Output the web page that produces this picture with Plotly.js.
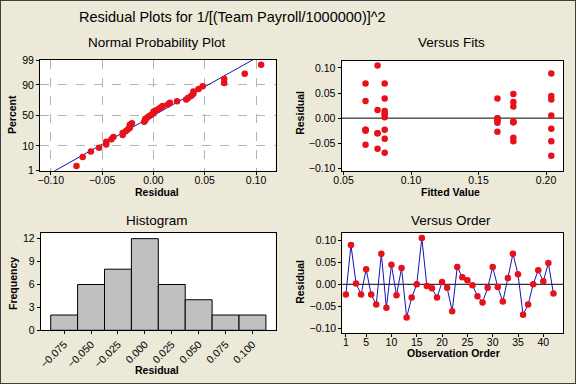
<!DOCTYPE html>
<html>
<head>
<meta charset="utf-8">
<script src="https://cdn.plot.ly/plotly-3.0.1.min.js"></script>
<style>
  html, body { margin: 0; padding: 0; background: #ece9d8; }
  #wrap { position: relative; width: 576px; height: 384px; }
  #chart { width: 576px; height: 384px; }
  #frame { position: absolute; left: 0; top: 0; width: 576px; height: 384px; box-sizing: border-box; border: 1px solid #404040; pointer-events: none; }
</style>
</head>
<body>
<div id="wrap"><div id="chart"></div><div id="frame"></div></div>
<script>
// ---- Data ----
const observationOrder = [1,2,3,4,5,6,7,8,9,10,11,12,13,14,15,16,17,18,19,20,21,22,23,24,25,26,27,28,29,30,31,32,33,34,35,36,37,38,39,40,41,42];
const residuals = [-0.023, 0.089, 0.002, -0.023, 0.034, -0.023, -0.046, 0.069, -0.053, 0.044,
                   -0.025, 0.037, -0.075, -0.030, 0.000, 0.105, -0.004, -0.009, -0.030, 0.005,
                   -0.008, -0.061, 0.039, 0.016, 0.009, -0.002, -0.027, -0.041, -0.008, 0.039,
                   -0.006, -0.039, 0.014, 0.069, 0.023, -0.069, -0.046, 0.000, 0.032, 0.007,
                   0.048, -0.021];
const fittedValues = [0.0663, 0.2039, 0.0805, 0.0663, 0.0663, 0.0805, 0.2039, 0.0663, 0.0663, 0.2039,
                      0.0663, 0.2039, 0.2039, 0.0752, 0.1640, 0.0752, 0.1640, 0.1640, 0.0752, 0.2039,
                      0.1758, 0.0752, 0.1640, 0.0752, 0.0805, 0.1640, 0.1640, 0.0805, 0.1758, 0.0805,
                      0.1758, 0.1758, 0.0805, 0.0805, 0.1758, 0.0805, 0.1758, 0.1640, 0.1758, 0.0805,
                      0.1758, 0.2039];
const percentTicks = [1, 10, 50, 90, 99];
const residTicks = [-0.10, -0.05, 0.00, 0.05, 0.10];
const fitTicks = [0.05, 0.10, 0.15, 0.20];
const histTicks = [-0.075, -0.050, -0.025, 0.000, 0.025, 0.050, 0.075, 0.100];
const freqTicks = [0, 3, 6, 9, 12];
const orderTicks = [1, 5, 10, 15, 20, 25, 30, 35, 40];

// ---- Normal quantile (Acklam) ----
function normInv(p) {
  const a = [-3.969683028665376e+01, 2.209460984245205e+02, -2.759285104469687e+02, 1.383577518672690e+02, -3.066479806614716e+01, 2.506628277459239e+00];
  const b = [-5.447609879822406e+01, 1.615858368580409e+02, -1.556989798598866e+02, 6.680131188771972e+01, -1.328068155288572e+01];
  const c = [-7.784894002430293e-03, -3.223964580411365e-01, -2.400758277161838e+00, -2.549732539343734e+00, 4.374664141464968e+00, 2.938163982698783e+00];
  const d = [7.784695709041462e-03, 3.224671290700398e-01, 2.445134137142996e+00, 3.754408661907416e+00];
  const pl = 0.02425, ph = 1 - pl;
  let q, r;
  if (p < pl) { q = Math.sqrt(-2 * Math.log(p)); return (((((c[0]*q+c[1])*q+c[2])*q+c[3])*q+c[4])*q+c[5]) / ((((d[0]*q+d[1])*q+d[2])*q+d[3])*q+1); }
  if (p <= ph) { q = p - 0.5; r = q*q; return (((((a[0]*r+a[1])*r+a[2])*r+a[3])*r+a[4])*r+a[5])*q / (((((b[0]*r+b[1])*r+b[2])*r+b[3])*r+b[4])*r+1); }
  q = Math.sqrt(-2 * Math.log(1 - p)); return -(((((c[0]*q+c[1])*q+c[2])*q+c[3])*q+c[4])*q+c[5]) / ((((d[0]*q+d[1])*q+d[2])*q+d[3])*q+1);
}

const n = residuals.length;
const sorted = residuals.slice().sort((a, b) => a - b);
const probZ = sorted.map((v, i) => normInv((i + 1 - 0.3) / (n + 0.4)));
const mean = residuals.reduce((s, v) => s + v, 0) / n;
const sd = Math.sqrt(residuals.reduce((s, v) => s + (v - mean) * (v - mean), 0) / (n - 1));
const lineZ = [-3, 3];
const lineX = lineZ.map(z => mean + sd * z);
const zTicks = percentTicks.map(p => normInv(p / 100));

const RED = '#e8101a';
const BLUE = '#1414b4';
const FONT = '"Liberation Sans", Arial, sans-serif';
const mk = { color: RED, size: 6.5 };

const traces = [
  { type: 'scatter', mode: 'lines', x: lineX, y: lineZ, xaxis: 'x', yaxis: 'y', line: { color: BLUE, width: 1 }, hoverinfo: 'skip' },
  { type: 'scatter', mode: 'markers', x: sorted, y: probZ, xaxis: 'x', yaxis: 'y', marker: mk },
  { type: 'scatter', mode: 'markers', x: fittedValues, y: residuals, xaxis: 'x2', yaxis: 'y2', marker: mk },
  { type: 'histogram', x: residuals, xaxis: 'x3', yaxis: 'y3', autobinx: false,
    xbins: { start: -0.0875, end: 0.1125, size: 0.025 },
    marker: { color: '#c0c0c0', line: { color: '#000000', width: 1 } } },
  { type: 'scatter', mode: 'lines+markers', x: observationOrder, y: residuals, xaxis: 'x4', yaxis: 'y4',
    line: { color: BLUE, width: 1 }, marker: mk }
];

const tickFont = { family: FONT, size: 10.5, color: '#000' };
function ax(extra) {
  return Object.assign({
    showline: true, mirror: true, linecolor: '#000', linewidth: 1,
    ticks: 'outside', ticklen: 3, tickcolor: '#000', tickwidth: 1,
    zeroline: false, showgrid: false, tickfont: tickFont, fixedrange: true
  }, extra);
}
// x axes: labels drawn without tick marks (so they sit close to the axis);
// the tick marks are drawn by a label-less overlay axis
function xLab(extra) { return ax(Object.assign({ ticks: '' }, extra)); }
function xTick(over, anchor, range, tickvals) {
  return { overlaying: over, anchor: anchor, range: range, tickvals: tickvals, showticklabels: false,
           ticks: 'outside', ticklen: 3, tickcolor: '#000', tickwidth: 1, showline: false, showgrid: false,
           zeroline: false, fixedrange: true };
}

const W = 576, H = 384;
const dx = (a, b) => [a / W, b / W];
const dy = (top, bottom) => [1 - bottom / H, 1 - top / H];

const r1 = [-0.1106, 0.119], r2 = [0.0485, 0.2128], r3 = [-0.0968, 0.1214], r4 = [0.29, 43.95];

const layout = {
  width: W, height: H,
  margin: { l: 0, r: 0, t: 0, b: 0 },
  paper_bgcolor: '#ece9d8', plot_bgcolor: '#ffffff',
  showlegend: false,
  font: { family: FONT, color: '#000' },
  bargap: 0,
  xaxis: xLab({ domain: dx(40, 275.5), anchor: 'y', range: r1, tickvals: residTicks, tickformat: '.2f',
              showgrid: true, gridcolor: '#b4b4b4', griddash: 'dash', gridwidth: 1 }),
  yaxis: ax({ domain: dy(60, 170.7), anchor: 'x', range: [zTicks[0], zTicks[4]], tickvals: zTicks, ticktext: percentTicks.map(String),
              showgrid: true, gridcolor: '#b4b4b4', griddash: 'dash', gridwidth: 1 }),
  xaxis2: xLab({ domain: dx(341.5, 563.3), anchor: 'y2', range: r2, tickvals: fitTicks, tickformat: '.2f' }),
  yaxis2: ax({ domain: dy(60.7, 170.7), anchor: 'x2', range: [-0.1048, 0.1145], tickvals: residTicks, tickformat: '.2f' }),
  xaxis3: ax({ domain: dx(40.7, 275.5), anchor: 'y3', range: r3, tickvals: histTicks, tickformat: '.3f', tickangle: -45 }),
  yaxis3: ax({ domain: dy(233.3, 330.3), anchor: 'x3', range: [0, 12.7], tickvals: freqTicks }),
  xaxis4: xLab({ domain: dx(342.3, 563.3), anchor: 'y4', range: r4, tickvals: orderTicks }),
  yaxis4: ax({ domain: dy(233.3, 332.7), anchor: 'x4', range: [-0.1096, 0.1155], tickvals: residTicks, tickformat: '.2f' }),
  xaxis5: xTick('x', 'y', r1, residTicks),
  xaxis6: xTick('x2', 'y2', r2, fitTicks),
  xaxis8: xTick('x4', 'y4', r4, orderTicks),
  shapes: [
    { type: 'line', xref: 'x2 domain', yref: 'y2', x0: 0, x1: 1, y0: 0, y1: 0, line: { color: '#000', width: 1 }, layer: 'below' },
    { type: 'line', xref: 'x4 domain', yref: 'y4', x0: 0, x1: 1, y0: 0, y1: 0, line: { color: '#000', width: 1 }, layer: 'below' }
  ],
  annotations: []
};

function ann(text, xPx, yPx, size, bold, angle) {
  layout.annotations.push({
    text: bold ? '<b>' + text + '</b>' : text,
    xref: 'paper', yref: 'paper', x: xPx / W, y: 1 - yPx / H,
    xanchor: 'center', yanchor: 'middle', showarrow: false,
    textangle: angle || 0,
    font: { family: FONT, size: size, color: '#000' }
  });
}
ann('Residual Plots for 1/[(Team Payroll/1000000)]^2', 232.5, 17, 14.5, false);
ann('Normal Probability Plot', 156.5, 42.5, 13.5, false);
ann('Versus Fits', 451, 42.5, 13.5, false);
ann('Histogram', 157, 220.7, 13.5, false);
ann('Versus Order', 450.5, 220.7, 13.5, false);
ann('Residual', 157, 192, 10.5, true);
ann('Percent', 12, 115, 10.5, true, -90);
ann('Fitted Value', 450.7, 192, 10.5, true);
ann('Residual', 300.5, 113.3, 10.5, true, -90);
ann('Frequency', 13, 284, 10.5, true, -90);
ann('Residual', 156.7, 370, 10.5, true);
ann('Residual', 300.5, 282.3, 10.5, true, -90);
ann('Observation Order', 453.3, 352.5, 10.5, true);

// layout-only tick axes need a (blank) trace to be drawn
traces.push({ type: 'scatter', x: [], y: [], xaxis: 'x5', yaxis: 'y', hoverinfo: 'skip' });
traces.push({ type: 'scatter', x: [], y: [], xaxis: 'x6', yaxis: 'y2', hoverinfo: 'skip' });
traces.push({ type: 'scatter', x: [], y: [], xaxis: 'x8', yaxis: 'y4', hoverinfo: 'skip' });

Plotly.newPlot('chart', traces, layout, { displayModeBar: false, staticPlot: true });
</script>
</body>
</html>
